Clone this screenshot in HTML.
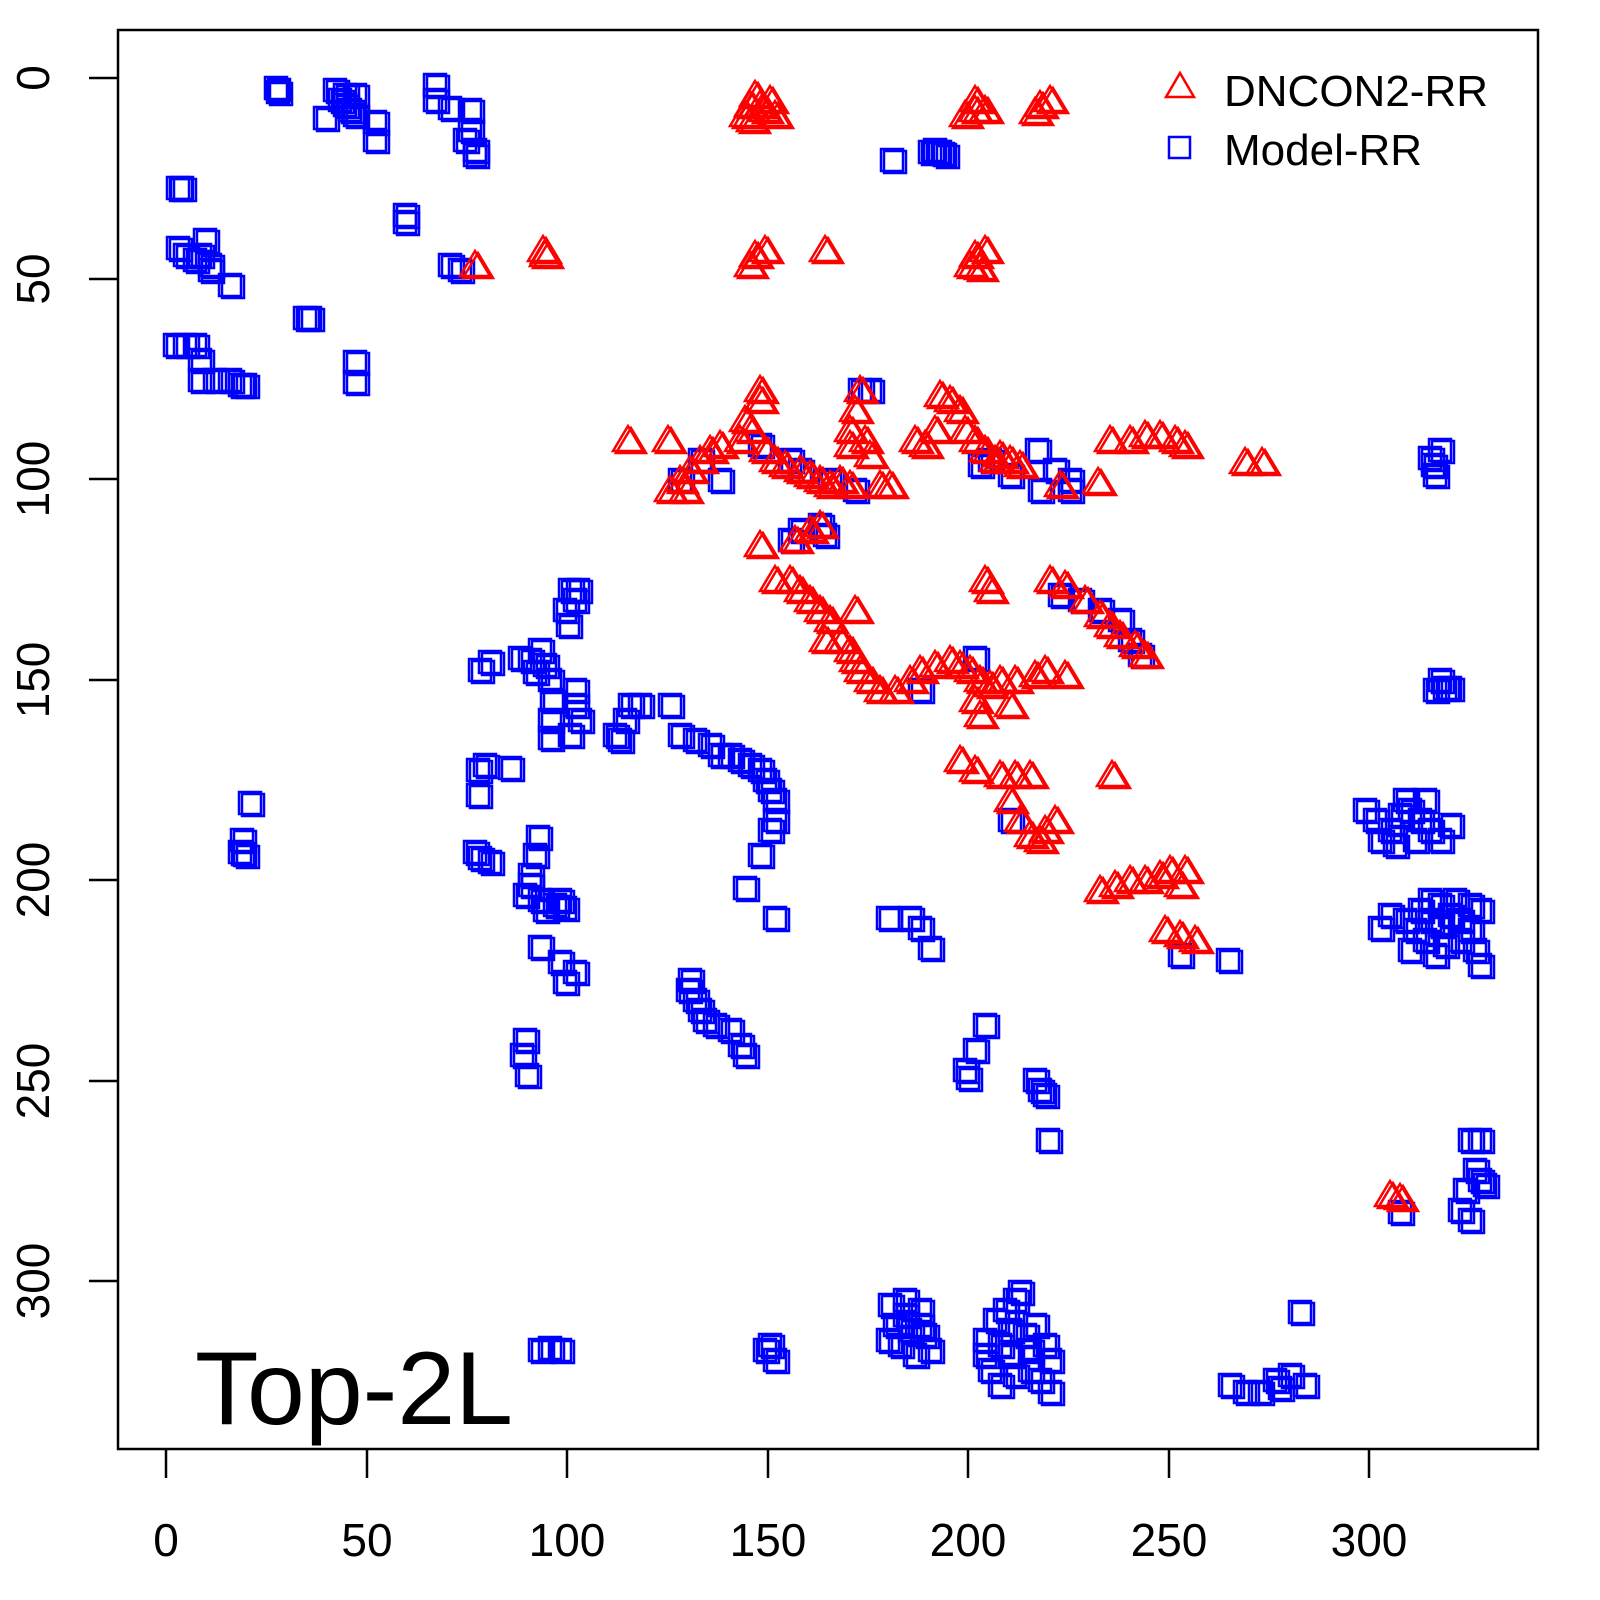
<!DOCTYPE html>
<html><head><meta charset="utf-8"><style>
html,body{margin:0;padding:0;background:#fff;}
svg{display:block;font-family:"Liberation Sans",sans-serif;}
</style></head><body>
<svg id="s" width="1600" height="1600" viewBox="0 0 1600 1600" xmlns="http://www.w3.org/2000/svg">
<rect x="118" y="30" width="1420" height="1419" fill="none" stroke="#000" stroke-width="2.5"/>
<g stroke="#000" stroke-width="2.5">
<line x1="166" y1="1449" x2="166" y2="1478"/><line x1="367" y1="1449" x2="367" y2="1478"/>
<line x1="567" y1="1449" x2="567" y2="1478"/><line x1="768" y1="1449" x2="768" y2="1478"/>
<line x1="968" y1="1449" x2="968" y2="1478"/><line x1="1169" y1="1449" x2="1169" y2="1478"/>
<line x1="1369" y1="1449" x2="1369" y2="1478"/>
<line x1="118" y1="78" x2="89" y2="78"/><line x1="118" y1="279" x2="89" y2="279"/>
<line x1="118" y1="479" x2="89" y2="479"/><line x1="118" y1="680" x2="89" y2="680"/>
<line x1="118" y1="880" x2="89" y2="880"/><line x1="118" y1="1081" x2="89" y2="1081"/>
<line x1="118" y1="1281" x2="89" y2="1281"/>
</g>
<g font-size="46" text-anchor="middle" fill="#000">
<text x="166" y="1556">0</text><text x="367" y="1556">50</text><text x="567" y="1556">100</text>
<text x="768" y="1556">150</text><text x="968" y="1556">200</text><text x="1169" y="1556">250</text><text x="1369" y="1556">300</text>
<text transform="translate(49,78) rotate(-90)">0</text>
<text transform="translate(49,279) rotate(-90)">50</text>
<text transform="translate(49,479) rotate(-90)">100</text>
<text transform="translate(49,680) rotate(-90)">150</text>
<text transform="translate(49,880) rotate(-90)">200</text>
<text transform="translate(49,1081) rotate(-90)">250</text>
<text transform="translate(49,1281) rotate(-90)">300</text>
</g>
<text x="195" y="1424" font-size="104">Top-2L</text>
<polygon points="1180,73 1166,97 1194,97" fill="none" stroke="#f00" stroke-width="2.5"/>
<rect x="1169" y="137" width="21" height="21" fill="none" stroke="#00f" stroke-width="2.5"/>
<text x="1224" y="106" font-size="44">DNCON2-RR</text>
<text x="1224" y="165" font-size="44">Model-RR</text>
<g id="b" fill="none" stroke="#00f" stroke-width="2.5"></g>
<g id="r" fill="none" stroke="#f00" stroke-width="2.5"></g>
</svg>
<script>
var B=[[276,88],[278,92],[335,90],[340,100],[345,105],[350,110],[355,115],[375,122],[375,140],[325,118],[355,95],[345,95],
[435,85],[435,100],[450,108],[470,110],[470,130],[475,150],[475,155],[465,140],[405,215],[405,222],[178,188],[182,188],
[178,248],[185,255],[195,260],[205,240],[210,265],[210,270],[200,255],[230,285],
[175,345],[185,345],[195,345],[200,360],[200,380],[215,380],[230,380],[240,385],[245,385],[305,318],[310,318],
[355,362],[355,382],[450,265],[460,270],[892,160],[930,152],[940,152],[945,155],[935,150],
[1037,450],[1055,470],[1070,490],[1070,480],[1430,458],[1440,450],[1435,475],[1433,465],
[680,480],[720,480],[700,460],[760,445],[790,460],[800,470],[830,480],[855,490],[980,465],[990,460],[1010,475],[1040,490],[860,390],[870,390],
[790,540],[800,530],[820,525],[825,535],[1060,595],[1080,600],[1100,610],[1130,640],[1140,655],[1120,620],[975,658],[920,690],[1010,820],
[1440,680],[1435,690],[1445,688],[1450,688],[570,590],[575,600],[565,610],[568,625],[578,590],
[480,670],[490,662],[520,658],[530,660],[545,665],[550,680],[552,700],[550,720],[570,735],[575,705],[575,690],[580,720],[550,738],[540,650],[535,672],
[615,735],[620,740],[625,720],[630,705],[640,705],[670,705],[680,735],[695,740],[710,745],[720,755],[730,755],[740,760],[750,765],[760,770],[765,780],[770,790],[775,800],[775,820],[770,830],[760,855],[745,888],[775,918],
[478,770],[478,795],[485,765],[510,768],[250,803],[242,840],[240,852],[245,855],
[475,852],[480,858],[490,862],[535,855],[530,885],[525,895],[540,900],[545,910],[555,905],[560,900],[565,908],[538,837],[540,947],[560,962],[575,972],[565,982],[530,875],
[525,1040],[522,1055],[527,1075],[690,980],[695,1000],[700,1010],[705,1020],[715,1025],[730,1030],[740,1045],[745,1055],[688,990],
[888,918],[910,918],[920,928],[930,948],[1228,960],[1180,955],
[1365,810],[1375,820],[1390,830],[1380,840],[1400,815],[1410,810],[1420,820],[1430,830],[1440,840],[1450,825],[1405,800],[1395,845],[1425,800],[1415,840],
[1380,928],[1390,915],[1405,920],[1415,930],[1420,910],[1430,900],[1440,905],[1450,915],[1460,920],[1470,905],[1480,910],[1425,940],[1435,955],[1445,945],[1460,940],[1475,950],[1480,965],[1410,950],[1440,925],[1455,900],[1470,930],[1430,920],
[965,1070],[968,1078],[975,1050],[985,1025],[1035,1080],[1040,1090],[1045,1095],[1048,1140],[1300,1312],
[1470,1140],[1480,1140],[1475,1170],[1480,1180],[1465,1190],[1460,1210],[1470,1220],[1485,1185],[1400,1212],
[540,1350],[550,1348],[560,1350],[770,1345],[775,1360],[765,1350],
[890,1305],[905,1300],[920,1310],[895,1325],[910,1330],[925,1335],[900,1345],[915,1355],[930,1350],[888,1340],[905,1315],[920,1325],
[985,1340],[995,1320],[1005,1310],[1015,1300],[1020,1292],[1000,1345],[1010,1355],[1025,1335],[1035,1325],[1045,1345],[1050,1360],[1040,1380],[1050,1392],[990,1370],[1000,1385],[1015,1375],[1030,1370],[985,1355],[1010,1330],[1030,1350],
[1230,1385],[1245,1392],[1260,1392],[1280,1388],[1290,1375],[1305,1385],[1275,1380]];
var R=[[745,115],[750,105],[755,95],[760,105],[765,110],[770,100],[775,115],[752,120],
[975,100],[975,110],[965,115],[985,110],[1040,105],[1050,100],[1035,112],
[475,265],[543,250],[545,255],[755,255],[765,250],[750,265],[825,250],[975,255],[985,250],[970,265],[980,268],
[628,440],[668,440],[680,480],[690,470],[700,460],[710,450],[720,445],[740,440],[750,430],[760,400],[760,390],[745,420],[765,450],[775,460],[785,465],[800,470],[810,475],[820,480],[830,485],[840,480],[850,485],[685,490],[670,490],
[860,390],[855,410],[850,430],[865,440],[870,455],[850,445],[880,485],[890,485],
[915,440],[935,430],[925,445],[940,395],[950,400],[960,410],[965,430],[975,440],[985,450],[995,460],[1010,460],[1020,465],[1000,455],
[1060,485],[1098,482],[1110,440],[1130,440],[1145,435],[1160,435],[1175,440],[1185,445],[1245,462],[1262,462],
[760,545],[795,540],[810,530],[820,525],
[775,580],[790,580],[800,590],[810,600],[820,610],[830,620],[840,640],[850,650],[855,660],[860,670],[870,680],[880,690],[895,690],[910,680],[920,670],[935,665],[950,660],[960,665],[970,670],[980,680],[990,685],[1000,680],[1015,680],[1035,675],[1045,670],[1065,675],[825,640],[855,610],
[985,580],[990,590],[1050,580],[1065,585],[1085,600],[1100,615],[1110,625],[1120,635],[1135,645],[1145,655],
[975,700],[980,715],[1010,705],[960,760],[975,770],[1000,775],[1015,775],[1030,775],[1010,800],[1020,820],[1030,835],[1045,830],[1055,820],[1040,840],[1112,775],
[1100,890],[1115,885],[1130,880],[1145,880],[1160,875],[1170,870],[1185,870],[1180,885],[1165,930],[1180,935],[1195,940],[1390,1195],[1400,1198]];
var ns="http://www.w3.org/2000/svg",b=document.getElementById('b'),r=document.getElementById('r');
function sq(x,y){var e=document.createElementNS(ns,'rect');e.setAttribute('x',x-11);e.setAttribute('y',y-11);e.setAttribute('width',22);e.setAttribute('height',22);b.appendChild(e);}
function tr(x,y){var e=document.createElementNS(ns,'polygon');e.setAttribute('points',x+','+(y-14)+' '+(x-15)+','+(y+11)+' '+(x+15)+','+(y+11));r.appendChild(e);}
B.forEach(function(p){sq(p[0],p[1]);sq(p[0]+3,p[1]+2);});
R.forEach(function(p){tr(p[0],p[1]);tr(p[0]+3,p[1]+2);});
</script>
</body></html>
